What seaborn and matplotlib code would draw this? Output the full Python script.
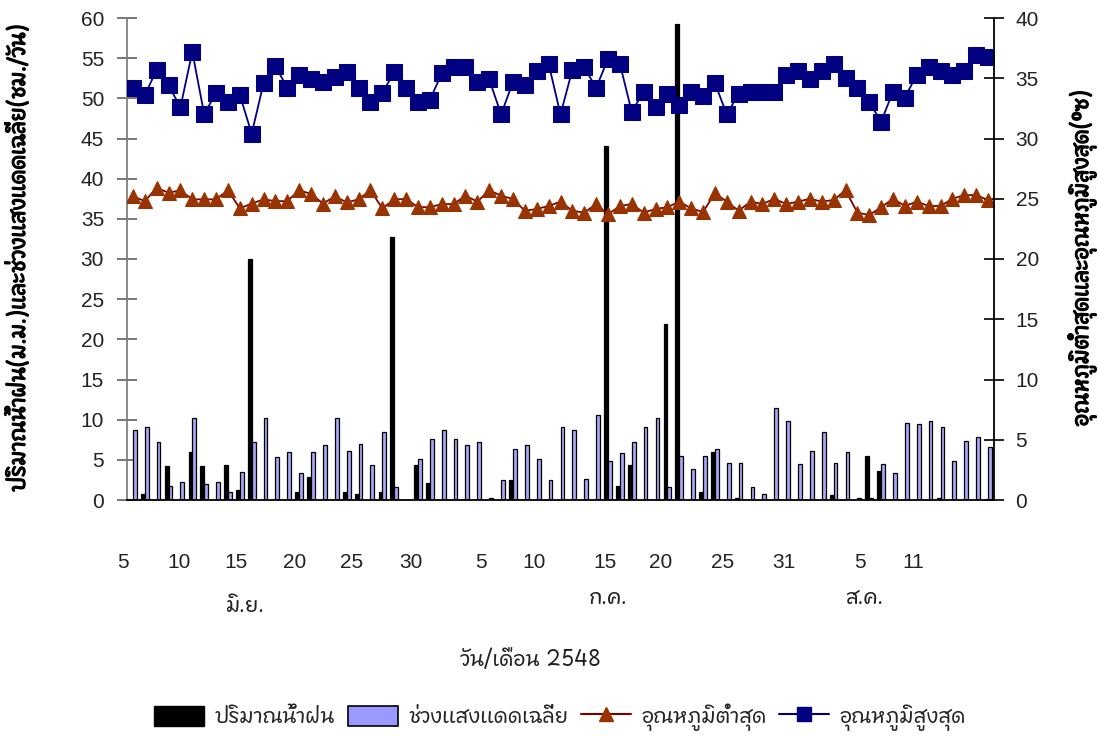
import numpy as np
import pandas as pd
import matplotlib
matplotlib.use("Agg")
import matplotlib.pyplot as plt
import matplotlib.patheffects as pe
import seaborn as sns
from matplotlib import font_manager
from matplotlib.ft2font import FT2Font
from matplotlib.patches import Patch
from matplotlib.lines import Line2D
from matplotlib.transforms import blended_transform_factory

# ---------------- data ----------------
dates = pd.date_range("2005-06-06", "2005-08-17")          # 73 daily categories
day_keys = [d.strftime("%d/%m") for d in dates]

rain = [0, 0.75, 0, 4.2, 0, 6.0, 4.2, 0, 4.4, 1.2,
        30.0, 0, 0, 0, 1.0, 2.9, 0, 0, 1.0, 0.75,
        0, 1.0, 32.7, 0, 4.4, 2.1, 0, 0, 0, 0,
        0, 0, 2.5, 0, 0, 0, 0, 0, 0, 0,
        44.1, 1.8, 4.4, 0, 0, 21.9, 59.2, 0, 1.0, 6.0,
        0, 0.3, 0, 0, 0, 0, 0, 0, 0, 0.6,
        0, 0, 5.5, 3.6, 0, 0, 0, 0, 0.3, 0,
        0, 0, 0]

sun = [8.7, 9.1, 7.2, 1.8, 2.3, 10.2, 2.0, 2.3, 0.95, 3.5,
       7.2, 10.2, 5.3, 6.0, 3.3, 6.0, 6.8, 10.2, 6.1, 7.0,
       4.4, 8.5, 1.6, 0, 5.06, 7.6, 8.7, 7.6, 6.8, 7.2,
       0.3, 2.5, 6.35, 6.8, 5.06, 2.5, 9.1, 8.7, 2.65, 10.6,
       4.86, 5.9, 7.2, 9.1, 10.2, 1.66, 5.5, 3.8, 5.5, 6.35,
       4.65, 4.65, 1.66, 0.75, 11.5, 9.8, 4.45, 6.1, 8.5, 4.65,
       6.0, 0.3, 0.3, 4.45, 3.3, 9.55, 9.4, 9.8, 9.1, 4.86,
       7.4, 7.8, 6.6]

tmin = [25.2, 24.8, 25.9, 25.5, 25.7, 24.95, 24.95, 24.95, 25.7, 24.2,
        24.6, 24.95, 24.8, 24.8, 25.7, 25.4, 24.6, 25.2, 24.7, 24.95,
        25.7, 24.2, 24.95, 24.98, 24.3, 24.3, 24.56, 24.56, 25.25, 24.76,
        25.7, 25.25, 24.98, 24.0, 24.15, 24.4, 24.76, 24.0, 23.85, 24.56,
        23.7, 24.4, 24.56, 23.85, 24.15, 24.3, 24.76, 24.2, 23.9, 25.45,
        24.76, 24.0, 24.76, 24.56, 25.0, 24.56, 24.76, 25.0, 24.76, 24.9,
        25.7, 23.85, 23.65, 24.3, 25.0, 24.4, 24.76, 24.4, 24.4, 25.0,
        25.3, 25.3, 24.9]

tmax = [34.2, 33.6, 35.7, 34.4, 32.6, 37.2, 32.0, 33.8, 33.0, 33.6,
        30.4, 34.6, 36.0, 34.2, 35.3, 34.9, 34.7, 35.1, 35.5, 34.2,
        33.0, 33.8, 35.5, 34.2, 33.0, 33.2, 35.4, 35.9, 35.9, 34.7,
        34.9, 32.0, 34.7, 34.4, 35.6, 36.2, 32.0, 35.7, 35.9, 34.2,
        36.6, 36.2, 32.2, 33.9, 32.6, 33.7, 32.8, 33.9, 33.5, 34.6,
        32.0, 33.7, 33.9, 33.9, 33.9, 35.3, 35.6, 34.9, 35.6, 36.2,
        35.0, 34.2, 33.0, 31.4, 33.9, 33.4, 35.3, 35.9, 35.6, 35.3,
        35.6, 36.9, 36.8]

day_label_text = ["5", "10", "15", "20", "25", "30", "5", "10", "15", "20", "25", "31", "5", "11"]
day_label_pos = [-0.84, 3.88, 8.68, 13.64, 18.44, 23.4, 29.3, 33.76, 39.74, 44.45, 49.67, 54.8, 61.2, 65.66]
month_text = ["มิ.ย.", "ก.ค.", "ส.ค."]
month_pos = [9.43, 39.99, 61.54]

series_names = ["ปริมาณน้ำฝน", "ช่วงแสงแดดเฉลี่ย", "อุณหภูมิต่ำสุด", "อุณหภูมิสูงสุด"]
left_label = "ปริมาณน้ำฝน(ม.ม.)และช่วงแสงแดดเฉลี่ย(ชม./วัน)"
right_label = "อุณหภูมิต่ำสุดและอุณหภูมิสูงสุด(⁰ซ)"
x_title = "วัน/เดือน 2548"

# ---------------- fonts ----------------
def find_thai_font():
    best = None
    for f in font_manager.fontManager.ttflist:
        try:
            cmap = FT2Font(f.fname).get_charmap()
        except Exception:
            continue
        if 0x0E01 in cmap and 0x0E19 in cmap and 0x0E49 in cmap:
            if best is None or "Sans" in f.name:
                best = f.name
    return best

sns.set_style("white")
thai = find_thai_font()
names = {f.name for f in font_manager.fontManager.ttflist}
narrow = "Liberation Sans Narrow" if "Liberation Sans Narrow" in names else "Liberation Sans"
fam = ([thai] if thai else []) + [narrow, "DejaVu Sans"]
num_fam = [narrow, "DejaVu Sans"]
plt.rcParams["font.family"] = fam

# ---------------- figure ----------------
W, H = 1098, 736
fig = plt.figure(figsize=(W / 100, H / 100), dpi=100)
ax = fig.add_axes([127 / W, 1 - 500 / H, (994 - 127) / W, (500 - 18) / H])

df = pd.DataFrame({
    "day": day_keys * 2,
    "value": rain + sun,
    "series": ["rain"] * len(rain) + ["sun"] * len(sun),
})
sns.barplot(data=df, x="day", y="value", hue="series", order=day_keys,
            hue_order=["rain", "sun"], palette={"rain": "black", "sun": "#9999FF"},
            width=0.64, edgecolor="black", linewidth=0.9, errorbar=None,
            legend=False, ax=ax)

ax.set_xlim(-0.5, len(day_keys) - 0.5)
ax.set_ylim(0, 60)
ax.set_yticks(np.arange(0, 61, 5))
ax.set_xticks(np.arange(-0.5, len(day_keys), 1.0))
ax.set_xticklabels([])
ax.set_xlabel("")
ax.set_ylabel("")
ax.tick_params(axis="x", direction="inout", length=15, width=1, color="#303030")
ax.tick_params(axis="y", direction="inout", length=15, width=1.2, color="#606060",
               pad=9, labelsize=15, labelcolor="#222222")
for lab in ax.get_yticklabels():
    lab.set_family(num_fam)
for s in ["top", "right"]:
    ax.spines[s].set_visible(False)
ax.spines["left"].set_color("#808080")
ax.spines["left"].set_linewidth(1.3)
ax.spines["bottom"].set_color("black")
ax.spines["bottom"].set_linewidth(1.3)

ax2 = ax.twinx()
xs = np.arange(len(day_keys))
sns.lineplot(x=xs, y=tmin, ax=ax2, color="#800000", linewidth=1.3,
             marker="^", markersize=10, markerfacecolor="#993300",
             markeredgecolor="#993300")
sns.lineplot(x=xs, y=tmax, ax=ax2, color="#000080", linewidth=1.3,
             marker="s", markersize=11, markerfacecolor="#000080",
             markeredgecolor="#000080")
ax2.set_xlim(-0.5, len(day_keys) - 0.5)
ax2.set_ylim(0, 40)
ax2.set_yticks(np.arange(0, 41, 5))
ax2.set_ylabel("")
ax2.tick_params(axis="y", direction="inout", length=15, width=1.2, color="black",
                pad=8, labelsize=15, labelcolor="#222222")
for lab in ax2.get_yticklabels():
    lab.set_family(num_fam)
for s in ["top", "left", "bottom"]:
    ax2.spines[s].set_visible(False)
ax2.spines["right"].set_color("black")
ax2.spines["right"].set_linewidth(1.3)

# axis titles (stroke gives a bold look when the Thai face has no bold weight)
bold = [pe.withStroke(linewidth=0.9, foreground="black")]
fig.text(18 / W, 1 - 258 / H, left_label, rotation=90, ha="center", va="center",
         fontsize=15.5, fontweight="bold", color="black", path_effects=bold)
fig.text(1082 / W, 1 - 258 / H, right_label, rotation=90, ha="center", va="center",
         fontsize=15.5, fontweight="bold", color="black", path_effects=bold)

# day / month labels
trans = blended_transform_factory(ax.transData, fig.transFigure)
for t, p in zip(day_label_text, day_label_pos):
    ax.text(p, 1 - 563 / H, t, transform=trans, ha="center", va="center",
            fontsize=15, color="#222222", family=num_fam)
month_y = [1 - 606 / H, 1 - 598 / H, 1 - 598 / H]
for t, p, yy in zip(month_text, month_pos, month_y):
    ax.text(p, yy, t, transform=trans, ha="center", va="center",
            fontsize=15, color="#222222")
fig.text(530 / W, 1 - 660 / H, x_title, ha="center", va="center",
         fontsize=15, color="#222222")

# legend
handles = [
    Patch(facecolor="black", edgecolor="black"),
    Patch(facecolor="#9999FF", edgecolor="black", linewidth=1.2),
    Line2D([0], [0], color="#800000", lw=1.5, marker="^", markersize=10,
           markerfacecolor="#993300", markeredgecolor="#993300"),
    Line2D([0], [0], color="#000080", lw=1.5, marker="s", markersize=10,
           markerfacecolor="#000080", markeredgecolor="#000080"),
]
fig.legend(handles, series_names, loc="center", bbox_to_anchor=(560 / W, 1 - 717 / H),
           ncol=4, frameon=False, fontsize=15, handlelength=2.4, handleheight=1.1,
           handletextpad=0.5, columnspacing=0.6, borderpad=0)

fig.savefig("out.png", dpi=100)
